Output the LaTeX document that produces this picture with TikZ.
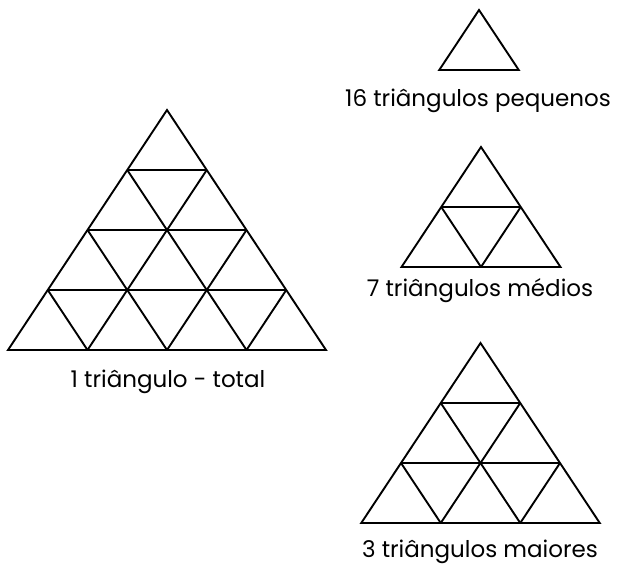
\documentclass[tikz,border=0pt]{standalone}
\usepackage{fontspec}
\setmainfont{Poppins}
\usetikzlibrary{positioning}

\begin{document}
\begin{tikzpicture}[
  x=1pt, y=-1pt,
  grid/.style={line width=1.9pt, line join=miter},
  caption/.style={font=\fontsize{23}{27}\selectfont, anchor=base},
]
  \useasboundingbox[fill=white] (0,0) rectangle (620,564);
  % apex x / apex y / rows of small triangles
  \foreach \ax/\ay/\n in {167/110/4, 479/10/1, 481/147/2, 480.5/343/3} {
    \draw[grid] (\ax,\ay) -- ++(-\n*39.75, \n*60) -- ++(\n*79.5, 0) -- cycle;
    \foreach \k in {1,...,3} {
      \ifnum\k<\n
        \draw[grid] (\ax-\k*39.75, \ay+\k*60) -- (\ax+\k*39.75, \ay+\k*60);
        \draw[grid] (\ax-\n*39.75+\k*79.5, \ay+\n*60) -- (\ax+\k*39.75, \ay+\k*60);
        \draw[grid] (\ax+\n*39.75-\k*79.5, \ay+\n*60) -- (\ax-\k*39.75, \ay+\k*60);
      \fi
    }
  }
  \node[caption] (pequenos) at (478,107) {16 triângulos pequenos};
  \node[caption] (medios)   at (480,296) {7 triângulos médios};
  \node[caption] (total)    at (168,387) {1 triângulo - total};
  \node[caption] (maiores)  at (480,557) {3 triângulos maiores};
\end{tikzpicture}
\end{document}
